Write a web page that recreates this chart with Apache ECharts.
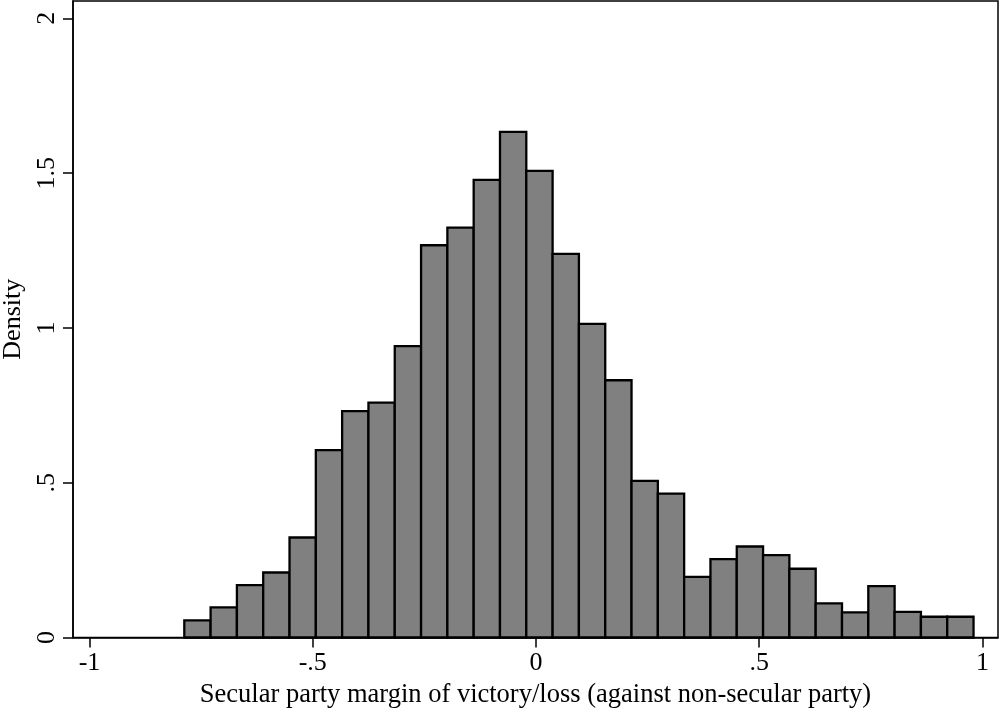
<!DOCTYPE html>
<html>
<head>
<meta charset="utf-8">
<script src="https://cdn.jsdelivr.net/npm/echarts@6/dist/echarts.min.js"></script>
<style>
html,body{margin:0;padding:0;background:#fff;}
#chart{width:1000px;height:711px;}
</style>
</head>
<body>
<div id="chart"></div>
<script>
// Histogram bins
const binStart = -0.7877;
const binWidth = 0.05893;
const densities = [0.055, 0.097, 0.169, 0.210, 0.323, 0.605, 0.731, 0.759, 0.941, 1.267,
                   1.324, 1.478, 1.633, 1.507, 1.239, 1.013, 0.831, 0.506, 0.465, 0.196,
                   0.253, 0.294, 0.266, 0.222, 0.110, 0.081, 0.166, 0.083, 0.067, 0.067];
const xTickValues = [-1, -0.5, 0, 0.5, 1];
const xTickLabels = ['-1', '-.5', '0', '.5', '1'];
const yTickValues = [0, 0.5, 1, 1.5, 2];
const yTickLabels = ['0', '.5', '1', '1.5', '2'];
const xTitle = 'Secular party margin of victory/loss (against non-secular party)';
const yTitle = 'Density';

const binData = densities.map((d, i) => [binStart + i * binWidth, binStart + (i + 1) * binWidth, d]);

const font = 'Liberation Serif';
const chart = echarts.init(document.getElementById('chart'), null, {renderer: 'canvas'});
chart.setOption({
  animation: false,
  backgroundColor: '#fff',
  grid: {left: 73, right: 2, top: 1, bottom: 73.5, containLabel: false, outerBoundsMode: 'none',
         show: true, borderColor: '#000', borderWidth: 1.5, backgroundColor: '#fff'},
  xAxis: {
    type: 'value', min: -1.037, max: 1.035,
    splitLine: {show: false},
    axisLine: {show: true, onZero: false, lineStyle: {color: '#000', width: 1.5}},
    axisTick: {show: true, length: 10, customValues: xTickValues, lineStyle: {color: '#000', width: 1.5}},
    axisLabel: {customValues: xTickValues, margin: 13, color: '#000', fontFamily: font, fontSize: 26,
      formatter: v => { const i = xTickValues.indexOf(v); return i >= 0 ? xTickLabels[i] : ''; }},
    name: xTitle, nameLocation: 'middle', nameGap: 38,
    nameTextStyle: {color: '#000', fontFamily: font, fontSize: 26.5}
  },
  yAxis: {
    type: 'value', min: 0, max: 2.056,
    splitLine: {show: false},
    axisLine: {show: true, onZero: false, lineStyle: {color: '#000', width: 1.5}},
    axisTick: {show: true, length: 10, customValues: yTickValues, lineStyle: {color: '#000', width: 1.5}},
    axisLabel: {customValues: yTickValues, rotate: 90, margin: 13, color: '#000', fontFamily: font, fontSize: 26,
      formatter: v => { const i = yTickValues.indexOf(v); return i >= 0 ? yTickLabels[i] : ''; }},
    name: yTitle, nameLocation: 'middle', nameGap: 45,
    nameTextStyle: {color: '#000', fontFamily: font, fontSize: 26}
  },
  series: [{
    type: 'custom',
    data: binData,
    encode: {x: [0, 1], y: 2},
    renderItem: (params, api) => {
      const p0 = api.coord([api.value(0), api.value(2)]);
      const p1 = api.coord([api.value(1), 0]);
      return {
        type: 'rect',
        shape: {x: p0[0], y: p0[1], width: p1[0] - p0[0], height: p1[1] - p0[1]},
        style: {fill: '#808080', stroke: '#000', lineWidth: 2.3}
      };
    }
  }]
});
</script>
</body>
</html>
